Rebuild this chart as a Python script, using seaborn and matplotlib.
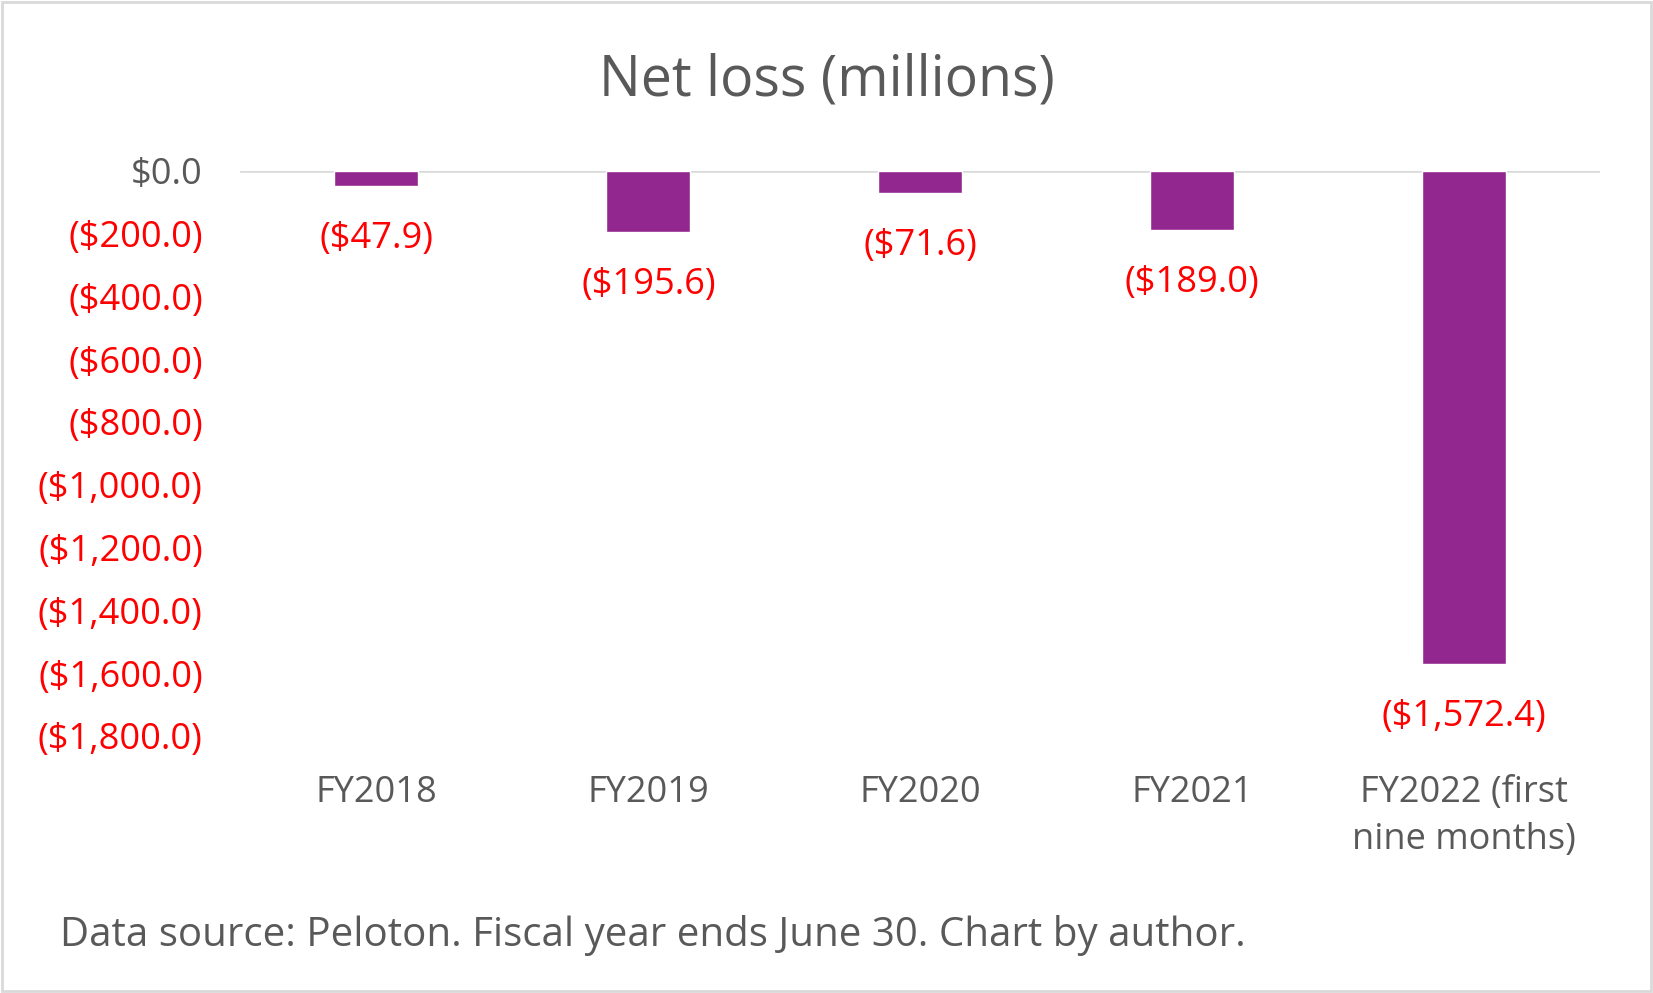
import matplotlib
matplotlib.use("Agg")
import matplotlib.pyplot as plt
import matplotlib.patches as mpatches
import seaborn as sns

# data
categories = ["FY2018", "FY2019", "FY2020", "FY2021", "FY2022 (first\nnine months)"]
net_loss = [-47.9, -195.6, -71.6, -189.0, -1572.4]
y_ticks = [0, -200, -400, -600, -800, -1000, -1200, -1400, -1600, -1800]

PURPLE = "#92278F"
RED = "#FF0000"
GREY = "#595959"

sns.set_style("white")
plt.rcParams["font.family"] = ["Open Sans", "DejaVu Sans"]

fig = plt.figure(figsize=(16.53, 9.93), dpi=100)
ax = fig.add_axes([0.1454, 0.259, 0.8227, 0.569])

sns.barplot(x=categories, y=net_loss, color=PURPLE, saturation=1,
            width=0.31, ax=ax)

def money(v):
    if v == 0:
        return "$0.0"
    return f"(${abs(v):,.1f})"

ax.set_ylim(-1800, 0)
ax.set_yticks(y_ticks)
ax.set_yticklabels([money(v) for v in y_ticks], fontsize=26)
for lbl, v in zip(ax.get_yticklabels(), y_ticks):
    lbl.set_color(GREY if v == 0 else RED)

ax.tick_params(axis="y", length=0, pad=27)
ax.tick_params(axis="x", length=0, pad=28, labelsize=26, labelcolor=GREY)
for lbl in ax.get_xticklabels():
    lbl.set_linespacing(1.4)
ax.set_xlabel("")
ax.set_ylabel("")
for s in ax.spines.values():
    s.set_visible(False)
ax.axhline(0, color="#D9D9D9", lw=1.8, zorder=0)

# data labels under each bar
for cont in ax.containers:
    ax.bar_label(cont, labels=[money(v) for v in net_loss],
                 padding=25, color=RED, fontsize=26)

fig.text(0.5, 0.918, "Net loss (millions)", ha="center", va="center",
         fontsize=40, color=GREY)
fig.text(0.036, 0.058, "Data source: Peloton. Fiscal year ends June 30. Chart by author.",
         ha="left", va="center", fontsize=29, color=GREY)

fig.patches.append(mpatches.Rectangle((0.001, 0.002), 0.998, 0.996,
                                      transform=fig.transFigure, fill=False,
                                      edgecolor="#D9D9D9", lw=2))

fig.savefig("out.png", dpi=100, facecolor="white")
